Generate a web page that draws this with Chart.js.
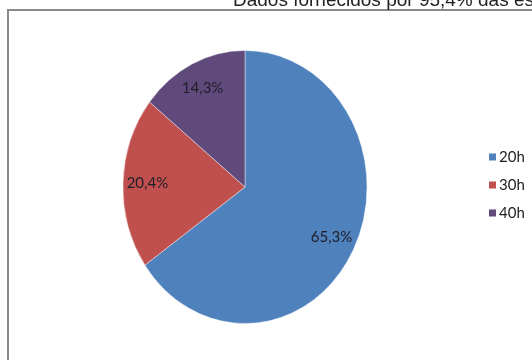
<!DOCTYPE html>
<html>
<head>
<meta charset="utf-8">
<script src="https://cdn.jsdelivr.net/npm/chart.js@4"></script>
<style>
  html, body { margin: 0; padding: 0; background: #fff; overflow: hidden; }
  #wrap { position: relative; width: 532px; height: 360px; }
  #frame { position: absolute; left: 7px; top: 9px; width: 600px; height: 400px;
           border-top: 2px solid #8a8a8a; border-left: 2px solid #8a8a8a; }
  canvas { position: absolute; left: 0; top: 0; }
</style>
</head>
<body>
<div id="wrap">
  <div id="frame"></div>
  <canvas id="pie-chart" width="532" height="360"></canvas>
</div>
<script>
const titleText = 'Dados fornecidos por 95,4% das es';
const categories = ['20h', '30h', '40h'];
const shares = [65.3, 20.4, 14.3];
const sliceColors = ['#4F81BD', '#C0504D', '#604A7B'];

const pieCanvas = document.getElementById('pie-chart');

// the original pie is an ellipse, a bit narrower than tall
const squeeze = 0.894;

function fmt(v) {
  return v.toFixed(1).replace('.', ',') + '%';
}

const ellipsePlugin = {
  id: 'ellipse',
  beforeDatasetsDraw(chart) {
    const ctx = chart.ctx;
    const arc = chart.getDatasetMeta(0).data[0];
    ctx.save();
    ctx.translate(arc.x, 0);
    ctx.scale(squeeze, 1);
    ctx.translate(-arc.x, 0);
  },
  afterDatasetsDraw(chart) {
    const ctx = chart.ctx;
    ctx.restore();

    // slice labels
    ctx.save();
    ctx.font = '15px Lato, "Open Sans", sans-serif';
    ctx.fillStyle = '#1f1f2a';
    ctx.textAlign = 'center';
    ctx.textBaseline = 'middle';
    chart.getDatasetMeta(0).data.forEach((arc, i) => {
      const p = arc.getProps(['x', 'y', 'startAngle', 'endAngle', 'outerRadius'], true);
      const mid = (p.startAngle + p.endAngle) / 2;
      const r = p.outerRadius * 0.8;
      ctx.fillText(fmt(shares[i]), p.x + Math.cos(mid) * r * squeeze, p.y + Math.sin(mid) * r);
    });
    ctx.restore();
  },
  afterDraw(chart) {
    const ctx = chart.ctx;
    ctx.save();
    // cut-off title at the top
    ctx.font = '19px "Liberation Sans", Arial, sans-serif';
    ctx.fillStyle = '#222';
    ctx.textBaseline = 'alphabetic';
    ctx.textAlign = 'left';
    ctx.fillText(titleText, 233, 6);

    // legend
    ctx.font = '15px Lato, "Open Sans", sans-serif';
    ctx.textBaseline = 'middle';
    categories.forEach((c, i) => {
      const y = 157 + i * 28;
      ctx.fillStyle = sliceColors[i];
      ctx.fillRect(489, y - 3.5, 7, 7);
      ctx.fillStyle = '#222';
      ctx.fillText(c, 499, y);
    });
    ctx.restore();
  }
};

const data = {
  labels: categories,
  datasets: [{
    data: shares,
    backgroundColor: sliceColors,
    borderColor: 'rgba(255,255,255,0.45)',
    borderWidth: 1
  }]
};

const config = {
  type: 'pie',
  data,
  options: {
    responsive: false,
    animation: false,
    layout: { padding: { top: 50, bottom: 36, left: 108, right: 150 } },
    plugins: {
      legend: { display: false },
      tooltip: { enabled: false }
    }
  },
  plugins: [ellipsePlugin]
};

const myChart = new Chart(pieCanvas, config);
</script>
</body>
</html>
